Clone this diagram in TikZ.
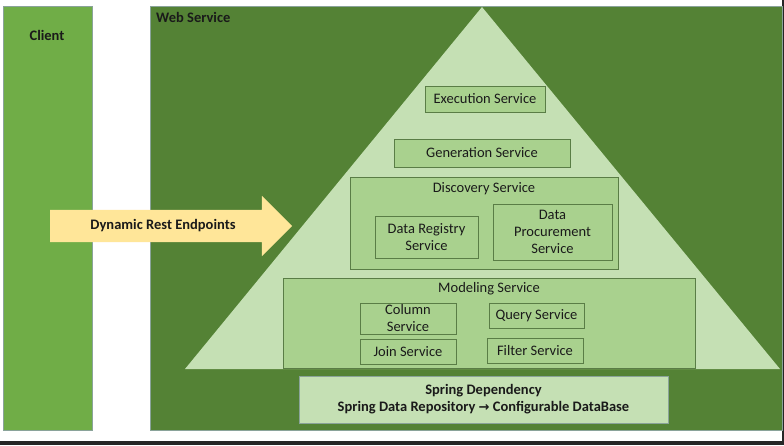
\documentclass[tikz,border=0pt]{standalone}
\usepackage{fontspec}
\setmainfont{Carlito}
\newfontfamily\symfont{DejaVu Sans}
\usetikzlibrary{shapes.arrows}
\definecolor{clientgreen}{HTML}{70AD47}
\definecolor{webgreen}{HTML}{548235}
\definecolor{palegreen}{HTML}{C5E0B4}
\definecolor{boxgreen}{HTML}{A9D18E}
\definecolor{boxline}{HTML}{5A7D46}
\definecolor{panelline}{HTML}{8AA39A}
\definecolor{restyellow}{HTML}{FFE699}
\definecolor{inktext}{HTML}{1A1A1A}
\begin{document}
\begin{tikzpicture}[x=1pt, y=-1pt,
        every node/.style={font=\fontsize{14.5}{17}\selectfont, text=inktext},
        panel/.style={draw=panelline, line width=0.8pt, inner sep=0pt},
        title/.style={font=\fontsize{14.5}{17}\selectfont\bfseries, inner sep=0pt},
        svcbox/.style={draw=boxline, fill=boxgreen, line width=0.8pt, inner sep=0pt, align=center}]
    \useasboundingbox (0,0) rectangle (784,445);
    \fill[white] (0,0) rectangle (784,445);
    \fill[black!85] (0,441) rectangle (784,445);
    \fill[black!85] (782,0) rectangle (784,441);
    % client and web service
    \node[panel, fill=clientgreen, minimum width=89pt, minimum height=424pt] (client) at (47.5,218) {};
    \node[title] (clientlbl) at (47,35) {Client};
    \node[panel, fill=webgreen, minimum width=632pt, minimum height=424pt] (web) at (466,218) {};
    \node[title, anchor=west] (weblbl) at (156,17) {Web Service};
    % pyramid
    \fill[palegreen] (482,7) -- (780,369) -- (185,369) -- cycle;
    \node[svcbox, minimum width=120pt, minimum height=26pt] (exec) at (485,99) {Execution Service};
    \node[svcbox, minimum width=176pt, minimum height=28pt] (gen) at (482,153) {Generation Service};
    \node[svcbox, minimum width=268pt, minimum height=92pt] (disc) at (484,223) {};
    \node[inner sep=0pt] (disclbl) at (484,189) {Discovery Service};
    \node[svcbox, minimum width=103pt, minimum height=42pt] (registry) at (426.5,237) {Data Registry\\Service};
    \node[svcbox, minimum width=119pt, minimum height=56pt] (procure) at (552.5,232) {Data\\Procurement\\Service};
    \node[svcbox, minimum width=412pt, minimum height=90pt] (model) at (489,323) {};
    \node[inner sep=0pt] (modellbl) at (489,289) {Modeling Service};
    \node[svcbox, minimum width=96pt, minimum height=31pt] (column) at (408,318.5) {Column\\Service};
    \node[svcbox, minimum width=95pt, minimum height=25pt] (query) at (536.5,315.5) {Query Service};
    \node[svcbox, minimum width=96pt, minimum height=25pt] (join) at (408,351.5) {Join Service};
    \node[svcbox, minimum width=96pt, minimum height=25pt] (filter) at (535,350.5) {Filter Service};
    \node[svcbox, draw=panelline, fill=palegreen, font=\fontsize{14.5}{17}\selectfont\bfseries,
          minimum width=369pt, minimum height=47pt] (spring) at (483.5,399.5)
          {Spring Dependency\\Spring Data Repository {\symfont\bfseries\fontsize{13}{17}\selectfont →} Configurable DataBase};
    % endpoints arrow
    \node[single arrow, fill=restyellow, font=\fontsize{14.5}{17}\selectfont\bfseries,
          text height=9pt, text depth=3pt, inner ysep=10pt, inner xsep=0pt,
          single arrow head extend=14pt, minimum height=242pt] (rest) at (163,226) {Dynamic Rest Endpoints};
\end{tikzpicture}
\end{document}
